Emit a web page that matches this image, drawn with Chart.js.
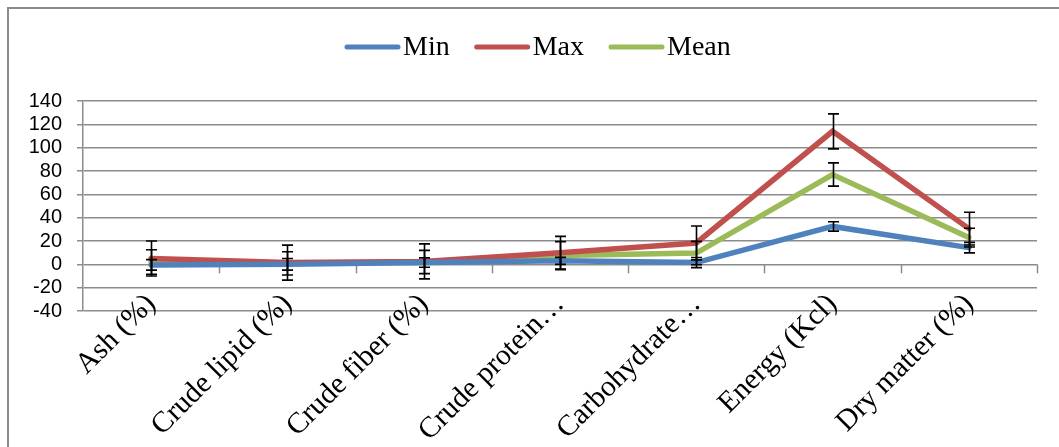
<!DOCTYPE html>
<html>
<head>
<meta charset="utf-8">
<script src="https://cdn.jsdelivr.net/npm/chart.js@4.4.1/dist/chart.umd.min.js"></script>
<style>
  html, body { margin: 0; padding: 0; background: #ffffff; }
  #wrap { position: relative; width: 1059px; height: 447px; }
</style>
</head>
<body>
<div id="wrap"><canvas id="c" width="1059" height="447"></canvas></div>
<script>
const categories = ["Ash (%)", "Crude lipid (%)", "Crude fiber (%)", "Crude protein\u2026", "Carbohydrate\u2026", "Energy (Kcl)", "Dry matter (%)"];
const minValues  = [-0.5, 0, 1.5, 3, 1.5, 32.5, 14.3];
const maxValues  = [5, 1.5, 2.5, 10, 18.3, 114, 30.6];
const meanValues = [2, 0.8, 2, 7.5, 9.7, 77, 22.9];
const minErrors  = [4.5, 5, 4, 3, 4.3, 4, 4.5];
const maxErrors  = [15, 15, 15, 14, 14.5, 15, 14];
const meanErrors = [10.5, 10, 10, 12, 10, 10, 8];
const yTicks = { min: -40, max: 140, step: 20 };

const GRID = '#8c8c8c';
const SERIF = '"Liberation Serif", "Times New Roman", serif';

const frame = {
  id: 'frame',
  beforeDraw(chart) {
    const ctx = chart.ctx;
    ctx.save();
    ctx.fillStyle = '#ffffff';
    ctx.fillRect(0, 0, chart.width, chart.height);
    ctx.fillStyle = '#8a8a8a';
    ctx.fillRect(7, 7, chart.width - 7, 2);
    ctx.fillRect(7, 7, 2, chart.height - 7);
    ctx.restore();
  }
};

const zeroTicks = {
  id: 'zeroTicks',
  beforeDatasetsDraw(chart) {
    const ctx = chart.ctx, xs = chart.scales.x, ys = chart.scales.y;
    const y0 = ys.getPixelForValue(0);
    ctx.save();
    ctx.strokeStyle = GRID;
    ctx.lineWidth = 1.5;
    for (let i = 1; i <= categories.length; i++) {
      const px = Math.round(xs.getPixelForValue(i - 0.5)) + 0.5;
      ctx.beginPath();
      ctx.moveTo(px, y0);
      ctx.lineTo(px, y0 + 9);
      ctx.stroke();
    }
    ctx.restore();
  }
};

const errorBars = {
  id: 'errorBars',
  afterDatasetsDraw(chart) {
    const ctx = chart.ctx, xs = chart.scales.x, ys = chart.scales.y;
    ctx.save();
    ctx.strokeStyle = '#000000';
    ctx.lineWidth = 1.6;
    chart.data.datasets.forEach(ds => {
      ds.data.forEach((v, i) => {
        const e = ds.errors[i];
        const px = Math.round(xs.getPixelForValue(i)) + 0.5;
        const yt = ys.getPixelForValue(v + e);
        const yb = ys.getPixelForValue(v - e);
        ctx.beginPath();
        ctx.moveTo(px, yt); ctx.lineTo(px, yb);
        ctx.moveTo(px - 5.5, yt); ctx.lineTo(px + 5.5, yt);
        ctx.moveTo(px - 5.5, yb); ctx.lineTo(px + 5.5, yb);
        ctx.stroke();
      });
    });
    ctx.restore();
  }
};

const lineLegend = {
  id: 'lineLegend',
  afterDraw(chart) {
    const ctx = chart.ctx;
    ctx.save();
    ctx.font = '28px ' + SERIF;
    ctx.textBaseline = 'middle';
    ctx.textAlign = 'left';
    let x = 345;
    const y = 47;
    chart.data.datasets.forEach(ds => {
      ctx.strokeStyle = ds.borderColor;
      ctx.lineWidth = 5;
      ctx.lineCap = 'round';
      ctx.beginPath();
      ctx.moveTo(x + 2, y); ctx.lineTo(x + 53, y);
      ctx.stroke();
      ctx.fillStyle = '#000000';
      ctx.fillText(ds.label, x + 58, y + 1);
      x += 58 + ctx.measureText(ds.label).width + 25;
    });
    ctx.restore();
  }
};

new Chart(document.getElementById('c'), {
  type: 'line',
  data: {
    labels: categories,
    datasets: [
      { label: 'Min', data: minValues, errors: minErrors, borderColor: '#4F81BD', backgroundColor: '#4F81BD' },
      { label: 'Max', data: maxValues, errors: maxErrors, borderColor: '#C0504D', backgroundColor: '#C0504D' },
      { label: 'Mean', data: meanValues, errors: meanErrors, borderColor: '#9BBB59', backgroundColor: '#9BBB59' }
    ].map(d => Object.assign(d, { borderWidth: 5.5, pointRadius: 0, pointHoverRadius: 0, tension: 0, fill: false, borderCapStyle: 'round', borderJoinStyle: 'miter' }))
  },
  options: {
    responsive: false,
    animation: false,
    events: [],
    layout: { padding: { top: 101, left: 0, right: 22, bottom: 0 } },
    plugins: {
      tooltip: { enabled: false },
      legend: { display: false }
    },
    scales: {
      x: {
        type: 'category',
        offset: true,
        grid: { display: false, drawTicks: false },
        border: { display: false },
        ticks: {
          autoSkip: false,
          minRotation: 45,
          maxRotation: 45,
          padding: -24,
          color: '#000000',
          font: { family: SERIF, size: 29.5 }
        },
        afterFit(s) {
          s.height = 136;
          s._computeLabelArea = function () { return undefined; };
        }
      },
      y: {
        min: yTicks.min,
        max: yTicks.max,
        grid: { color: GRID, lineWidth: 1.5, tickLength: 6, drawTicks: true },
        border: { display: true, color: GRID, width: 1.5 },
        ticks: {
          stepSize: yTicks.step,
          autoSkip: false,
          padding: 15,
          color: '#000000',
          font: { family: '"Liberation Sans", Arial, sans-serif', size: 20 }
        },
        afterFit(s) { s.width = 83; }
      }
    }
  },
  plugins: [frame, zeroTicks, errorBars, lineLegend]
});
</script>
</body>
</html>
